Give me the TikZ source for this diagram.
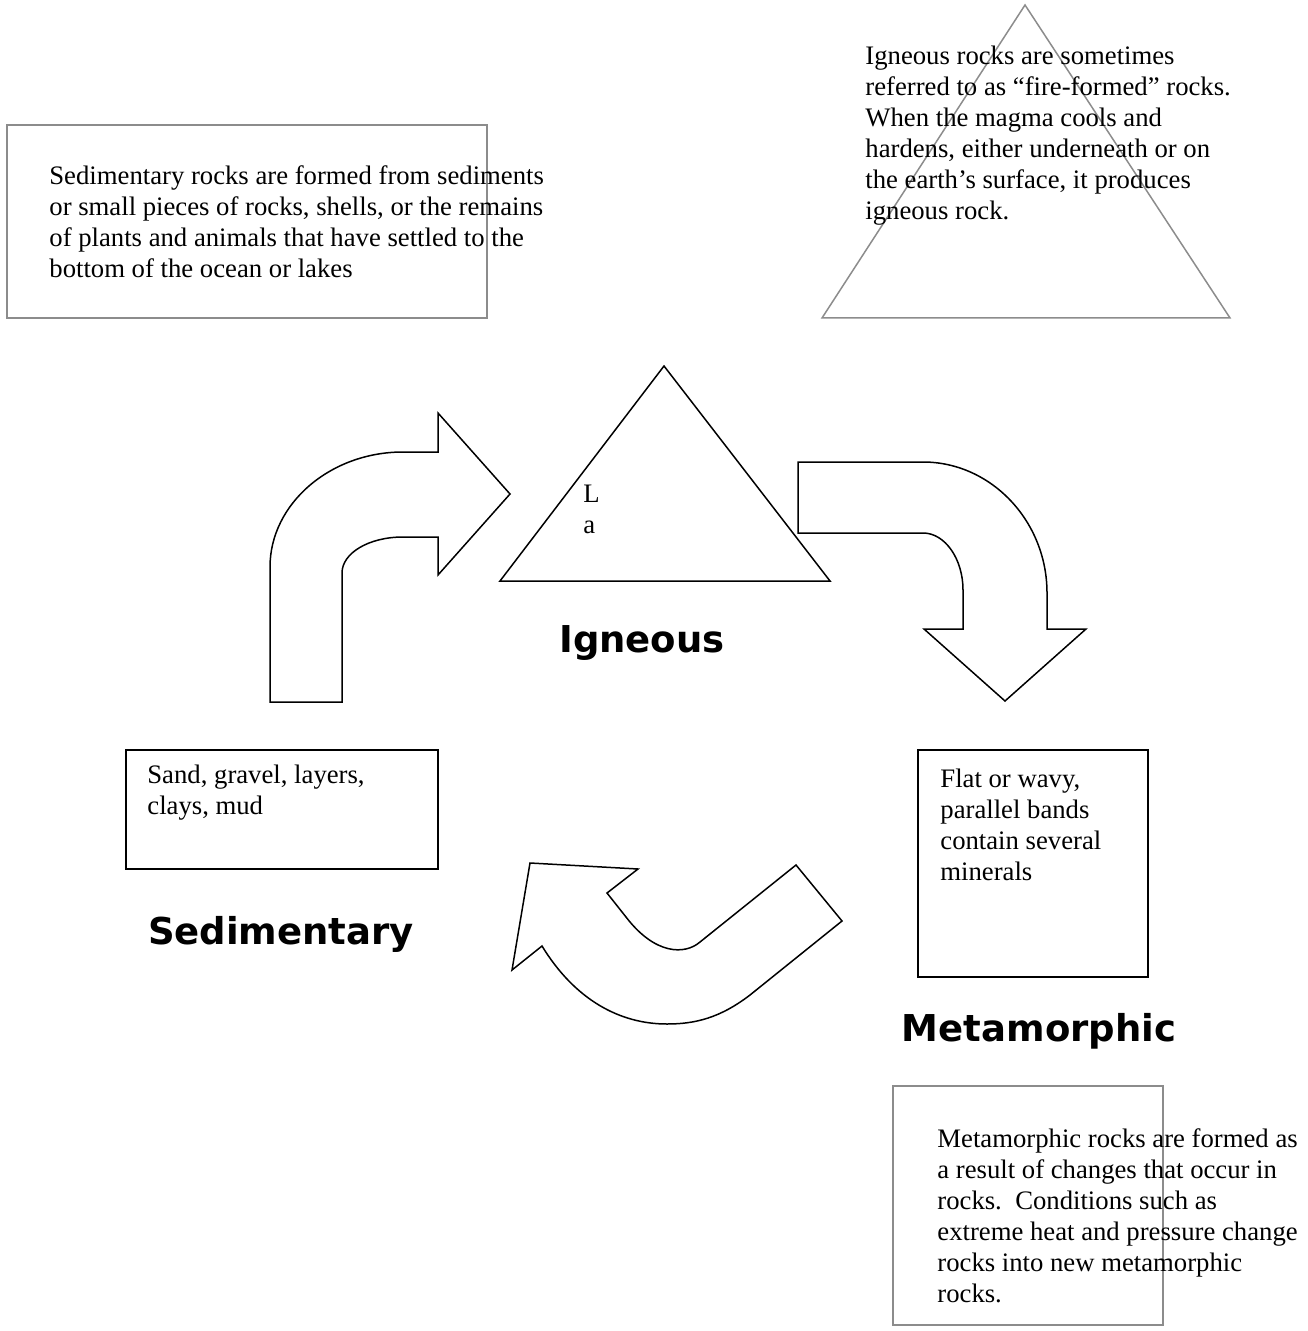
\documentclass[tikz,border=0pt]{standalone}
\usepackage{fontspec}
\setmainfont{Liberation Serif}
\newfontfamily\headfont{DejaVu Sans}
\tikzset{
	note/.style={anchor=north west, inner sep=0pt, align=left, font=\fontsize{13.35}{15.5}\selectfont},
	rocklabel/.style={anchor=base, inner sep=0pt, font=\headfont\bfseries\fontsize{18.5}{22}\selectfont},
	outline/.style={line width=0.75pt, line join=miter},
	faint/.style={line width=0.75pt, draw=black!45},
}

\begin{document}
\begin{tikzpicture}[x=0.5pt, y=-0.5pt]
				\useasboundingbox (0,0) rectangle (1307,1331);
				
				\draw[faint] (7,125) rectangle (487,318);
				\node[note] (sedtext) at (49,162) {\strut Sedimentary rocks are formed from sediments\\or small pieces of rocks, shells, or the remains\\of plants and animals that have settled to the\\bottom of the ocean or lakes};
				
				\draw[faint] (1025,5) -- (1230,318) -- (822,318) -- cycle;
				\node[note] (igntext) at (865,42) {\strut Igneous rocks are sometimes\\referred to as “fire-formed” rocks.\\When the magma cools and\\hardens, either underneath or on\\the earth’s surface, it produces\\igneous rock.};
				
				\draw[outline] (664,366) -- (830,581) -- (500,581) -- cycle;
				\node[note] (la) at (583,480) {\strut L\\a};
				\node[rocklabel] (igneous) at (642,652) {Igneous};
				
				\draw[outline] (270,702) -- (270,567) .. controls (270,504) and (330,452) .. (403,452) -- (438,452) -- (438,413) -- (510,494) -- (438,575) -- (438,537) -- (403,537) .. controls (369,537) and (342,553) .. (342,573) -- (342,702) -- cycle;
				
				\draw[outline] (798,462) -- (923,462) .. controls (991,462) and (1047,521) .. (1047,593) -- (1047,629) -- (1086,629) -- (1005,701) -- (924,629) -- (963,629) -- (963,590) .. controls (963,559) and (945,533) .. (923,533) -- (798,533) -- cycle;
				
				\draw[outline] (796,865) -- (842,921) -- (750,995) .. controls (720,1018) and (695,1024) .. (667,1024) .. controls (620,1024) and (575,1000) .. (542,946) -- (512,970) -- (530,863) -- (638,869) -- (607,893) -- (626,917) .. controls (655,955) and (685,955) .. (700,942) -- cycle;
				
				\draw[outline] (126,750) rectangle (438,869);
				\node[note] (sedfacts) at (147,761) {\strut Sand, gravel, layers,\\clays, mud};
				\node[rocklabel] (sedimentary) at (281,944) {Sedimentary};
				
				\draw[outline] (918,750) rectangle (1148,977);
				\node[note] (metfacts) at (940,765) {\strut Flat or wavy,\\parallel bands\\contain several\\minerals};
				\node[rocklabel] (metamorphic) at (1039,1041) {Metamorphic};
				
				\draw[faint] (893,1086) rectangle (1163,1325);
				\node[note] (mettext) at (937,1125) {\strut Metamorphic rocks are formed as\\a result of changes that occur in\\rocks.\ \ Conditions such as\\extreme heat and pressure change\\rocks into new metamorphic\\rocks.};
			\end{tikzpicture}
\end{document}
